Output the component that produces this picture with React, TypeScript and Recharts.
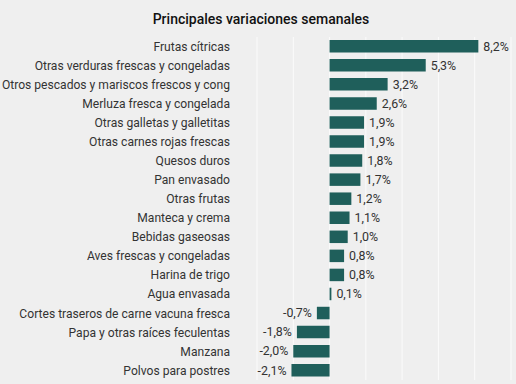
import React from 'react';
import { BarChart, Bar, XAxis, YAxis, CartesianGrid, LabelList } from 'recharts';

const categories = [
  'Frutas cítricas',
  'Otras verduras frescas y congeladas',
  'Otros pescados y mariscos frescos y cong',
  'Merluza fresca y congelada',
  'Otras galletas y galletitas',
  'Otras carnes rojas frescas',
  'Quesos duros',
  'Pan envasado',
  'Otras frutas',
  'Manteca y crema',
  'Bebidas gaseosas',
  'Aves frescas y congeladas',
  'Harina de trigo',
  'Agua envasada',
  'Cortes traseros de carne vacuna fresca',
  'Papa y otras raíces feculentas',
  'Manzana',
  'Polvos para postres',
];

const values = [8.2, 5.3, 3.2, 2.6, 1.9, 1.9, 1.8, 1.7, 1.2, 1.1, 1.0, 0.8, 0.8, 0.1, -0.7, -1.8, -2.0, -2.1];

const xTicks = [-4, -2, 0, 2, 4, 6, 8, 10];

const title = 'Principales variaciones semanales';

const data = categories.map((name, i) => ({ name, value: values[i] }));

const FONT = 'Roboto, "Noto Sans", sans-serif';

const fmt = (v: number) => v.toFixed(1).replace('.', ',') + '%';

const ValueLabel = (props: any) => {
  const { x, y, width, height, value } = props;
  const v = Number(value);
  const cy = y + height / 2;
  if (v >= 0) {
    const right = x + width;
    return (
      <text x={right + 5} y={cy} dy="0.35em" textAnchor="start" fontSize={12.4} fill="#333" fontFamily={FONT}>
        {fmt(v)}
      </text>
    );
  }
  const left = Math.min(x, x + width);
  return (
    <text x={left - 5} y={cy} dy="0.35em" textAnchor="end" fontSize={12.4} fill="#333" fontFamily={FONT}>
      {fmt(v)}
    </text>
  );
};

const CatTick = (props: any) => {
  const { x, y, payload } = props;
  return (
    <text x={x} y={y} dy="0.35em" textAnchor="end" fontSize={12.1} fill="#333" fontFamily={FONT}>
      {payload.value}
    </text>
  );
};

export default function App() {
  return (
    <div style={{ position: 'absolute', left: 0, top: 0, width: 516, height: 384, background: '#efefef', fontFamily: FONT }}>
      <div
        style={{
          position: 'absolute',
          left: 0,
          top: 11,
          width: 522,
          textAlign: 'center',
          fontSize: 14,
          fontWeight: 500,
          color: '#111',
          lineHeight: '17px',
        }}
      >
        {title}
      </div>
      <BarChart
        width={516}
        height={384}
        data={data}
        layout="vertical"
        margin={{ top: 37, right: 5, bottom: 4, left: 0 }}
        barSize={12.5}
      >
        <CartesianGrid horizontal={false} vertical={true} stroke="#fbfbfb" strokeWidth={1} />
        <XAxis type="number" domain={[-4, 10]} ticks={xTicks} hide />
        <YAxis
          type="category"
          dataKey="name"
          width={257}
          tickLine={false}
          axisLine={false}
          tickSize={0}
          tickMargin={27}
          interval={0}
          tick={<CatTick />}
        />
        <Bar dataKey="value" fill="#1f5f5b" isAnimationActive={false}>
          <LabelList dataKey="value" content={<ValueLabel />} />
        </Bar>
      </BarChart>
    </div>
  );
}
